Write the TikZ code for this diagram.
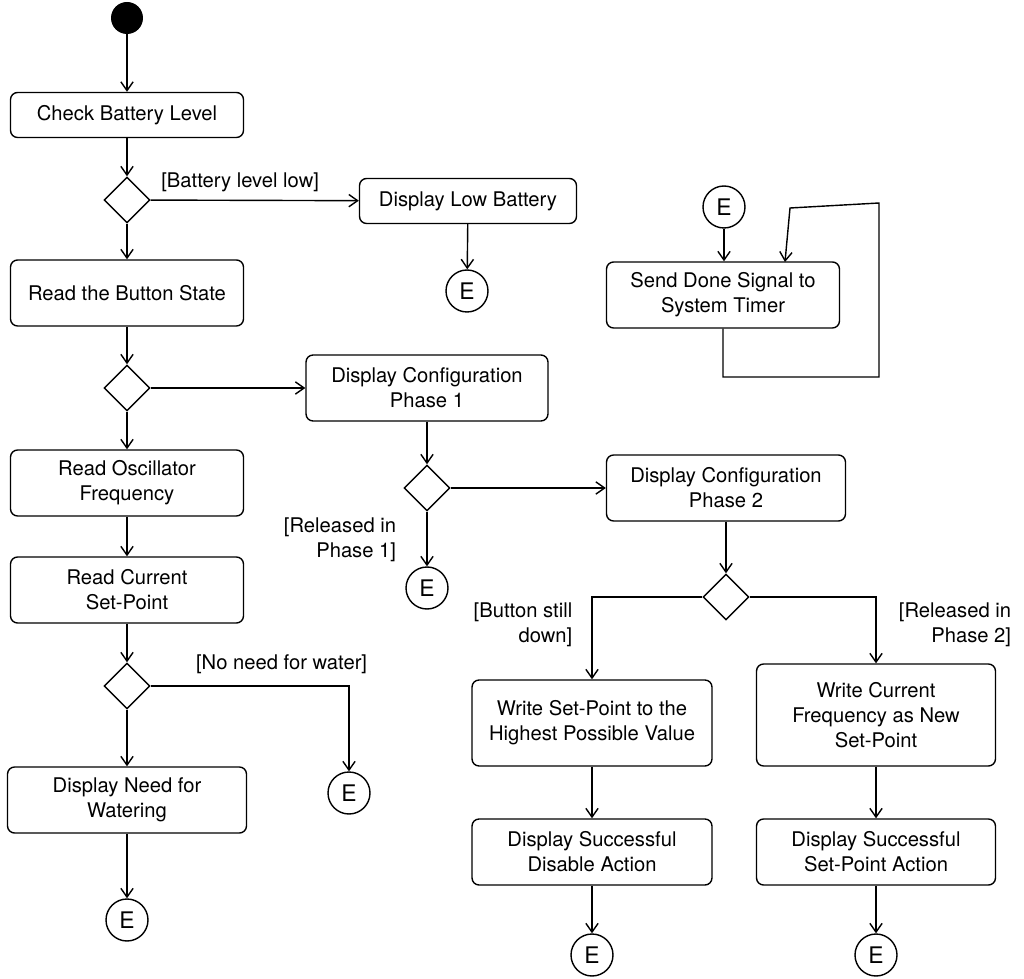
\documentclass[tikz,border=0pt]{standalone}
\usepackage{fontspec}
\setmainfont{TeX Gyre Heros}
\usetikzlibrary{arrows.meta,positioning,shapes.geometric}

\begin{document}
\begin{tikzpicture}[x=0.02cm, y=-0.02cm,
    action/.style={rectangle, rounded corners=4pt, draw, thick, minimum width=4.66cm, minimum height=1.32cm, align=center, font=\fontsize{11.5}{14.2}\selectfont},
    short/.style={minimum height=0.9cm},
    branch/.style={diamond, draw, thick, minimum size=0.92cm, inner sep=0pt},
    final/.style={circle, draw, thick, minimum size=0.84cm, inner sep=0pt, font=\fontsize{13}{15}\selectfont},
    flow/.style={-{Straight Barb[length=5pt,width=7pt]}, thick},
    guard/.style={font=\fontsize{11.5}{14.2}\selectfont, align=right}
]
    \useasboundingbox (0,0) rectangle (1024,979);
    % Main column
    \node[circle, fill=black, minimum size=0.64cm, inner sep=0pt] (start) at (127,18) {};
    \node[action, short] (battery) at (127,115) {Check Battery Level};
    \node[branch] (dlow) at (127,200) {};
    \node[action, short, minimum width=4.34cm] (lowbat) at (468,201) {Display Low Battery};
    \node[final] (elow) at (467,291) {E};
    \node[action] (button) at (127,293) {Read the Button State};
    \node[branch] (dbtn) at (127,388) {};
    \node[action, minimum width=4.84cm] (phase1) at (427,388) {Display Configuration\\Phase 1};
    \node[action] (osc) at (127,483) {Read Oscillator\\Frequency};
    \node[action] (setpt) at (127,590) {Read Current\\Set-Point};
    \node[branch] (dwater) at (127,686) {};
    \node[action, minimum width=4.78cm] (water) at (127,800) {Display Need for\\Watering};
    \node[final] (ewater) at (127,920) {E};
    \node[final] (enowater) at (349,793) {E};

    % Configuration branch
    \node[branch] (dph1) at (427,488) {};
    \node[final] (eph1) at (427,588) {E};
    \node[action, minimum width=4.78cm] (phase2) at (726,488) {Display Configuration\\Phase 2};
    \node[branch] (dph2) at (726,597) {};
    \node[action, minimum width=4.8cm, minimum height=1.72cm] (highest) at (592,723) {Write Set-Point to the\\Highest Possible Value};
    \node[action, minimum width=4.78cm, minimum height=2.04cm] (current) at (876,715) {Write Current\\Frequency as New\\Set-Point};
    \node[action, minimum width=4.8cm] (disable) at (592,852) {Display Successful\\Disable Action};
    \node[action, minimum width=4.78cm] (spaction) at (876,852) {Display Successful\\Set-Point Action};
    \node[final] (edisable) at (592,955) {E};
    \node[final] (esp) at (876,955) {E};

    % Timer loop
    \node[final] (etimer) at (724,207) {E};
    \node[action, minimum width=4.66cm] (done) at (723,295) {Send Done Signal to\\System Timer};
    \coordinate (lp1) at (723,377);
    \coordinate (lp2) at (879,377);
    \coordinate (lp3) at (879,203);
    \coordinate (lp4) at (790,208);

    % Connectors
    \draw[flow] (start) -- (battery);
    \draw[flow] (battery) -- (dlow);
    \draw[flow] (dlow) -- (lowbat) node[pos=0.43, above=1pt, font=\fontsize{11.5}{14.2}\selectfont] {[Battery level low]};
    \draw[flow] (lowbat) -- (elow);
    \draw[flow] (dlow) -- (button);
    \draw[flow] (button) -- (dbtn);
    \draw[flow] (dbtn) -- (phase1);
    \draw[flow] (dbtn) -- (osc);
    \draw[flow] (osc) -- (setpt);
    \draw[flow] (setpt) -- (dwater);
    \draw[flow] (dwater) -- (water);
    \draw[flow] (water) -- (ewater);
    \draw[flow] (dwater.east) -- (349,686) node[pos=0.66, above=3pt, font=\fontsize{11.5}{14.2}\selectfont] {[No need for water]} -- (enowater);
    \draw[flow] (phase1) -- (dph1);
    \draw[flow] (dph1) -- (phase2);
    \draw[flow] (dph1) -- (eph1);
    \node[guard] at (340,540) {[Released in\\Phase 1]};
    \draw[flow] (phase2) -- (dph2);
    \draw[flow] (dph2.west) -| (highest.north);
    \node[guard] at (523,625) {[Button still\\down]};
    \draw[flow] (dph2.east) -| (current.north);
    \node[guard] at (955,625) {[Released in\\Phase 2]};
    \draw[flow] (highest) -- (disable);
    \draw[flow] (current) -- (spaction);
    \draw[flow] (disable) -- (edisable);
    \draw[flow] (spaction) -- (esp);
    \draw[flow] (etimer) -- (etimer |- done.north);
    \draw[flow] (done.south) -- (lp1) -- (lp2) -- (lp3) -- (lp4) -- (785,262);
\end{tikzpicture}
\end{document}
